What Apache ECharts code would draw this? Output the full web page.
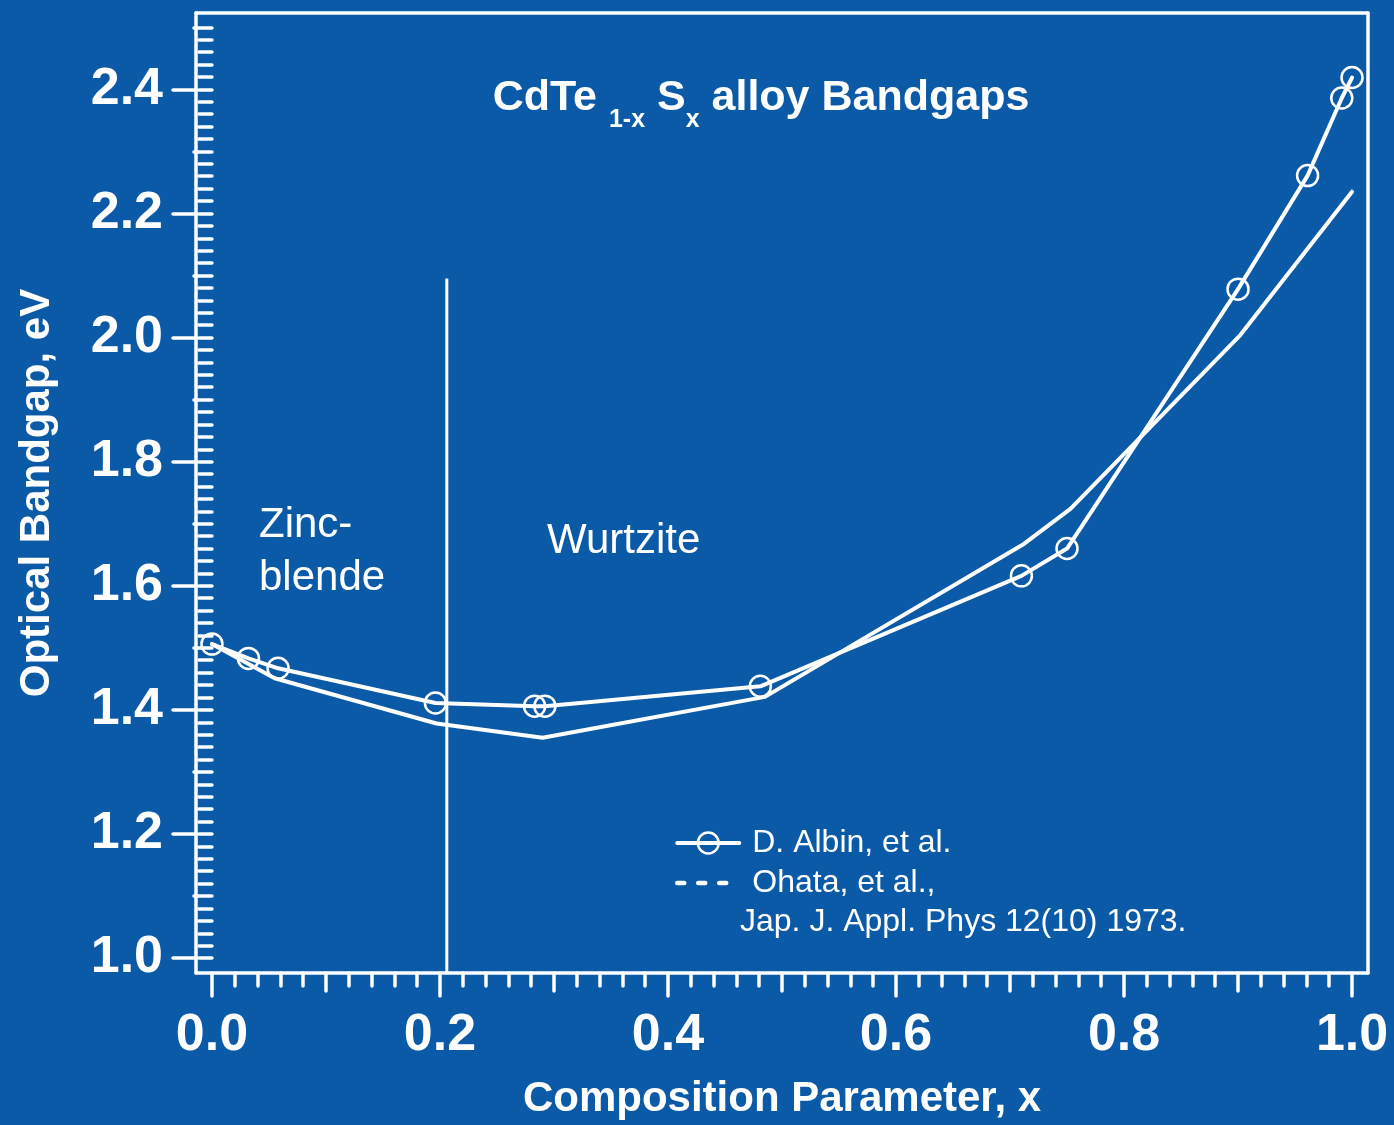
<!DOCTYPE html>
<html>
<head>
<meta charset="utf-8">
<title>CdTe1-xSx alloy Bandgaps</title>
<script src="https://cdn.jsdelivr.net/npm/echarts@6/dist/echarts.min.js"></script>
<style>
  html, body { margin: 0; padding: 0; background: #0b5aa7; }
  #chart { width: 1394px; height: 1125px; }
</style>
</head>
<body>
<div id="chart"></div>
<script>
// Composition x and optical bandgap (eV), D. Albin et al.
const albinX = [0.000, 0.032, 0.058, 0.196, 0.283, 0.292, 0.481, 0.710, 0.750, 0.900, 0.961, 0.991, 1.000];
const albinY = [1.506, 1.483, 1.467, 1.411, 1.406, 1.406, 1.438, 1.616, 1.660, 2.078, 2.261, 2.386, 2.419];

// Ohata et al., Jap. J. Appl. Phys 12(10) 1973
const ohataX = [0.000, 0.055, 0.197, 0.290, 0.485, 0.711, 0.753, 0.902, 1.000];
const ohataY = [1.506, 1.451, 1.378, 1.355, 1.421, 1.666, 1.724, 2.004, 2.235];

// Zinc-blende / wurtzite phase boundary
const boundaryX = [0.206, 0.206];
const boundaryY = [0.976, 2.095];

// Axis ranges and tick labels
const xMin = -0.014, xMax = 1.014;
const yMin = 0.976, yMax = 2.523;
const xTickLabels = [0.0, 0.2, 0.4, 0.6, 0.8, 1.0];
const yTickLabels = [1.0, 1.2, 1.4, 1.6, 1.8, 2.0, 2.2, 2.4];

function steps(start, end, step) {
  const out = [];
  const n = Math.round((end - start) / step);
  for (let i = 0; i <= n; i++) out.push(+(start + i * step).toFixed(3));
  return out;
}
const xMinorTicks = steps(0.0, 1.0, 0.02);
const xMidTicks = steps(0.1, 0.9, 0.2);
const yMinorTicks = steps(1.0, 2.5, 0.02);
const yMidTicks = steps(1.1, 2.5, 0.2);

const WHITE = '#ffffff';
const CLEAR = 'rgba(0,0,0,0)';
const FONT = "'Liberation Sans', Arial, Helvetica, sans-serif";

function zip(xs, ys) { return xs.map((x, i) => [x, ys[i]]); }

function tickOnlyAxis(base, values, len) {
  return Object.assign({}, base, {
    axisLine: { show: false },
    axisTick: { show: true, customValues: values, length: len,
      lineStyle: { color: WHITE, width: 3.5, cap: 'round' } },
    axisLabel: { show: false },
    splitLine: { show: false }
  });
}

const xBase = { type: 'value', min: xMin, max: xMax, gridIndex: 0, position: 'bottom' };
const yBase = { type: 'value', min: yMin, max: yMax, gridIndex: 0, position: 'left' };

const chart = echarts.init(document.getElementById('chart'), null, { renderer: 'canvas' });

const option = {
  animation: false,
  backgroundColor: '#0b5aa7',
  textStyle: { fontFamily: FONT },
  grid: { left: 196, right: 26, top: 13, bottom: 146, containLabel: false },
  xAxis: [
    Object.assign({}, xBase, {
      name: 'Composition Parameter, x',
      nameLocation: 'middle',
      nameGap: 105,
      nameTextStyle: { color: WHITE, fontSize: 42, fontWeight: 'bold', fontFamily: FONT },
      axisLine: { show: true, onZero: false, lineStyle: { color: WHITE, width: 3.5, cap: 'round' } },
      axisTick: { show: true, customValues: xTickLabels, length: 23,
        lineStyle: { color: WHITE, width: 3.5, cap: 'round' } },
      axisLabel: { show: true, customValues: xTickLabels, margin: 37,
        color: WHITE, fontSize: 52, fontWeight: 'bold', fontFamily: FONT,
        formatter: v => v.toFixed(1) },
      splitLine: { show: false }
    }),
    tickOnlyAxis(xBase, xMinorTicks, 13),
    tickOnlyAxis(xBase, xMidTicks, 18),
    Object.assign({}, xBase, {
      position: 'top',
      axisLine: { show: true, onZero: false, lineStyle: { color: WHITE, width: 3.5, cap: 'round' } },
      axisTick: { show: false }, axisLabel: { show: false }, splitLine: { show: false }
    })
  ],
  yAxis: [
    Object.assign({}, yBase, {
      name: 'Optical Bandgap, eV',
      nameLocation: 'middle',
      nameGap: 138,
      nameTextStyle: { color: WHITE, fontSize: 42, fontWeight: 'bold', fontFamily: FONT },
      axisLine: { show: true, onZero: false, lineStyle: { color: WHITE, width: 3.5, cap: 'round' } },
      axisTick: { show: true, customValues: yTickLabels, length: 23,
        lineStyle: { color: WHITE, width: 3.5, cap: 'round' } },
      axisLabel: { show: true, customValues: yTickLabels, margin: 33,
        color: WHITE, fontSize: 52, fontWeight: 'bold', fontFamily: FONT,
        formatter: v => v.toFixed(1) },
      splitLine: { show: false }
    }),
    tickOnlyAxis(yBase, yMinorTicks, 13),
    tickOnlyAxis(yBase, yMidTicks, 18),
    Object.assign({}, yBase, {
      position: 'right',
      axisLine: { show: true, onZero: false, lineStyle: { color: WHITE, width: 3.5, cap: 'round' } },
      axisTick: { show: false }, axisLabel: { show: false }, splitLine: { show: false }
    })
  ],
  legend: {
    orient: 'vertical',
    left: 675,
    top: 827,
    padding: 0,
    itemGap: 8,
    itemWidth: 62,
    itemHeight: 26,
    selectedMode: false,
    textStyle: { color: WHITE, fontSize: 32, lineHeight: 32, fontFamily: FONT, padding: [0, 0, 0, 8] },
    data: [
      { name: 'D. Albin, et al.',
        lineStyle: { width: 4, color: WHITE, cap: 'round' },
        itemStyle: { color: CLEAR, borderColor: WHITE, borderWidth: 2.5 } },
      { name: 'Ohata, et al.,',
        lineStyle: { type: [7, 14], width: 4.5, cap: 'round', color: WHITE },
        itemStyle: { color: CLEAR, borderColor: CLEAR, borderWidth: 0 } }
    ]
  },
  graphic: [
    {
      type: 'text', x: 761, y: 77, silent: true,
      style: {
        text: '{m|CdTe }{s|1-x}{m| S}{s|x}{m| alloy Bandgaps}',
        align: 'center', verticalAlign: 'top', fill: WHITE,
        rich: {
          m: { fontSize: 43, fontWeight: 'bold', fontFamily: FONT, lineHeight: 48, verticalAlign: 'top', fill: WHITE },
          s: { fontSize: 25, fontWeight: 'bold', fontFamily: FONT, lineHeight: 26, padding: [31, 0, 0, 0], verticalAlign: 'top', fill: WHITE }
        }
      }
    },
    {
      type: 'text', x: 259, y: 552, silent: true,
      style: { text: 'Zinc-\nblende', fill: WHITE, fontSize: 42, fontFamily: FONT, lineHeight: 53,
        align: 'left', verticalAlign: 'middle' }
    },
    {
      type: 'text', x: 547, y: 541, silent: true,
      style: { text: 'Wurtzite', fill: WHITE, fontSize: 42, fontFamily: FONT,
        align: 'left', verticalAlign: 'middle' }
    },
    {
      type: 'text', x: 740, y: 922, silent: true,
      style: { text: 'Jap. J. Appl. Phys 12(10) 1973.', fill: WHITE, fontSize: 32, fontFamily: FONT,
        align: 'left', verticalAlign: 'middle' }
    }
  ],
  series: [
    {
      name: 'phase boundary',
      type: 'line',
      xAxisIndex: 0, yAxisIndex: 0,
      data: zip(boundaryX, boundaryY),
      symbol: 'none',
      lineStyle: { color: WHITE, width: 3 },
      emphasis: { disabled: true },
      silent: true, z: 1
    },
    {
      name: 'Ohata, et al.,',
      type: 'line',
      xAxisIndex: 0, yAxisIndex: 0,
      data: zip(ohataX, ohataY),
      symbol: 'none',
      lineStyle: { color: WHITE, width: 4, cap: 'round', join: 'round' },
      itemStyle: { color: CLEAR },
      emphasis: { disabled: true },
      silent: true, z: 2
    },
    {
      name: 'D. Albin, et al.',
      type: 'line',
      xAxisIndex: 0, yAxisIndex: 0,
      data: zip(albinX, albinY),
      symbol: 'circle',
      symbolSize: 21,
      showAllSymbol: true,
      lineStyle: { color: WHITE, width: 4, cap: 'round', join: 'round' },
      itemStyle: { color: CLEAR, borderColor: WHITE, borderWidth: 2.5 },
      emphasis: { disabled: true },
      silent: true, z: 3
    }
  ]
};

chart.setOption(option);
</script>
</body>
</html>
